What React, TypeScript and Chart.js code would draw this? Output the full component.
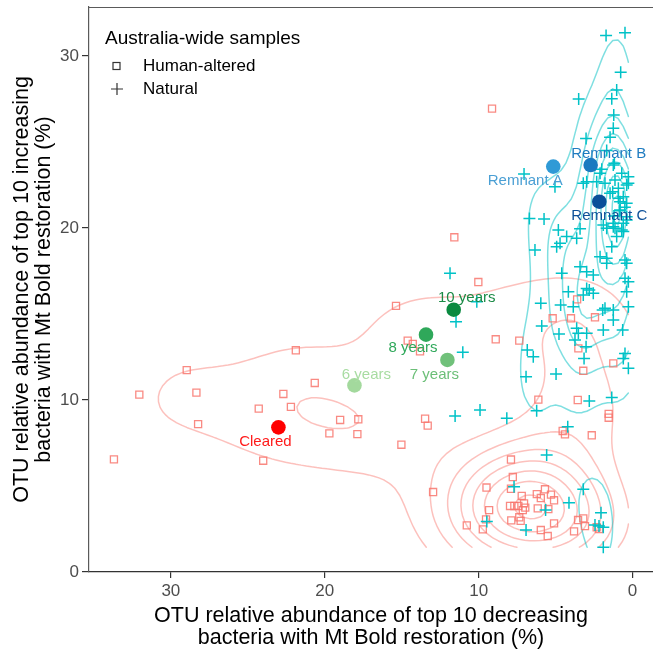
import React, { useEffect, useRef } from 'react';
import { Chart, registerables } from 'chart.js';

Chart.register(...registerables);

const FONT = '"Liberation Sans", Arial, Helvetica, sans-serif';

// ---- axes ----
const xTicks = [0, 10, 20, 30];
const yTicks = [0, 10, 20, 30];
const xLimits = [-1.33, 35.32];
const yLimits = [0, 32.85];

const xTitle = ['OTU relative abundance of top 10 decreasing', 'bacteria with Mt Bold restoration (%)'];
const yTitle = ['OTU relative abundance of top 10 increasing', 'bacteria with Mt Bold restoration (%)'];

const legendTitle = 'Australia-wide samples';
const groupNames = ['Human-altered', 'Natural'];

// ---- Human-altered samples (squares) ----
const humanX = [
  33.7, 28.97, 32.05, 28.34, 28.23, 24.29, 24.0, 22.69, 22.2, 21.88,
  20.65, 19.7, 19.0, 17.82, 17.88, 15.02, 15.37, 14.61, 14.28, 13.81,
  13.48, 13.31, 12.96, 11.58, 10.02, 9.13, 8.89, 7.36, 6.12, 3.56,
  1.55, 1.55, 4.54, 4.39, 2.65, 3.2, 1.25, 5.19, 4.0, 2.44,
  3.52, 3.6, 7.9, 7.78, 9.49, 7.9, 7.2, 6.22, 5.69, 5.96,
  5.3, 5.1, 7.96, 7.68, 7.42, 7.05, 6.97, 7.13, 6.16, 5.47,
  9.32, 9.52, 9.73, 10.77, 7.88, 7.36, 7.27, 5.96, 5.51, 5.1,
  3.8, 3.54, 3.2, 3.09, 2.33, 2.18,
];
const humanY = [
  6.55, 11.74, 10.31, 10.43, 8.6, 9.5, 6.47, 10.35, 9.6, 12.89,
  10.99, 8.06, 8.84, 8.88, 8.02, 7.4, 15.47, 13.45, 13.26, 12.83,
  8.91, 8.51, 4.65, 19.46, 16.86, 26.94, 13.53, 13.45, 10.02, 10.0,
  9.19, 8.97, 8.2, 8.0, 7.95, 11.7, 12.13, 14.75, 14.75, 14.81,
  13.0, 15.85, 6.54, 5.52, 4.91, 4.84, 4.42, 4.53, 4.81, 4.3,
  4.5, 4.17, 3.84, 3.84, 3.84, 3.99, 3.74, 3.6, 3.7, 3.66,
  3.6, 3.06, 2.48, 2.71, 3.0, 3.18, 2.97, 2.44, 2.09, 2.83,
  2.36, 3.02, 3.12, 2.67, 2.6, 2.5,
];

// ---- Natural samples (plus) ----
const naturalX = [
  1.72, 0.49, 0.77, 1.03, 3.5, 1.35, 1.22, 1.25, 1.46, 3.02,
  1.68, 1.18, 7.05, 5.04, 3.2, 2.0, 1.25, 0.7, 0.27, 0.27,
  2.98, 2.33, 1.79, 1.29, 0.92, 0.81, 2.11, 0.38, 1.46, 6.7,
  5.75, 4.82, 4.28, 3.63, 6.34, 4.93, 3.41, 1.35, 0.49, 2.11,
  1.68, 3.41, 0.27, 4.6, 4.17, 2.81, 5.96, 4.67, 3.85, 1.79,
  0.27, 11.86, 11.47, 10.12, 0.38, 0.7, 1.25, 1.9, 1.14, 0.6,
  4.71, 1.68, 0.38, 2.98, 2.55, 0.49, 2.98, 2.55, 3.2, 0.38,
  1.94, 1.25, 1.25, 1.9, 0.64, 5.9, 4.78, 3.63, 3.52, 2.98,
  3.74, 3.02, 3.15, 6.84, 6.45, 4.97, 6.92, 0.49, 0.6, 0.27,
  11.03, 2.81, 1.35, 6.23, 11.53, 9.91, 8.17, 4.21, 5.58, 7.7,
  3.2, 4.13, 2.05, 5.65, 9.47, 6.92, 2.44, 1.9, 1.9, 0.86,
  1.2, 0.5, 1.14, 0.92, 0.6, 0.38, 0.81, 0.38, 0.6, 1.25,
  1.68, 1.03, 2.18,
];
const naturalY = [
  31.2, 31.36, 29.05, 28.02, 27.5, 27.52, 26.57, 25.8, 25.27, 25.2,
  24.5, 23.76, 23.14, 22.4, 22.6, 23.41, 23.66, 23.18, 22.98, 22.6,
  22.69, 22.69, 22.6, 22.11, 21.73, 21.53, 23.18, 22.5, 22.02, 20.56,
  20.52, 19.88, 19.5, 19.4, 18.72, 18.91, 19.95, 18.91, 18.14, 18.33,
  18.24, 17.75, 16.88, 17.37, 16.3, 16.4, 15.62, 15.52, 15.42, 15.33,
  15.42, 17.37, 14.55, 15.72, 20.47, 19.88, 20.08, 20.17, 19.98, 19.79,
  19.11, 17.95, 17.95, 17.46, 17.27, 17.08, 16.49, 16.2, 16.1, 16.3,
  15.23, 15.23, 14.65, 14.07, 14.07, 14.3, 13.84, 14.17, 13.88, 13.88,
  13.49, 13.1, 12.42, 12.91, 12.52, 11.51, 11.35, 12.71, 12.42, 11.84,
  12.77, 9.94, 10.15, 9.38, 9.07, 9.42, 8.94, 8.45, 6.8, 4.96,
  4.81, 4.03, 3.45, 3.6, 2.93, 2.44, 2.73, 2.6, 1.44, 21.0,
  20.7, 21.2, 22.79, 22.31, 21.82, 21.44, 21.05, 20.66, 20.27, 20.27,
  19.98, 19.5, 2.67,
];

// ---- Mt Bold restoration sites ----
const siteNames = ['Cleared', '6 years', '7 years', '8 years', '10 years', 'Remnant A', 'Remnant B', 'Remnant C'];
const siteX = [23.01, 18.07, 12.03, 13.42, 11.62, 5.15, 2.72, 2.16];
const siteY = [8.41, 10.85, 12.33, 13.8, 15.25, 23.57, 23.66, 21.53];

// ---- styles ----
const siteColors = ['#ff0000', '#a3d99d', '#70c17a', '#2fa85a', '#0a8a40', '#2f9ad6', '#1b7ac0', '#0a4f9a'];
const siteLabelColors = ['#ff1a1a', '#a8dca2', '#6cbf78', '#2fa85a', '#1a8a45', '#4a9fd4', '#1f7cc0', '#0d4f98'];
const siteLabelOffsets = [[-13, 15], [12, -11], [-13, 15], [-13, 13], [13, -12], [-28, 14], [18, -11], [10, 14]];
const humanColor = 'rgba(248,118,109,0.85)';
const naturalColor = '#00c2c7';
const humanContourColor = 'rgba(248,118,109,0.45)';
const naturalContourColor = 'rgba(0,191,196,0.5)';

// ---- 2D density (like ggplot2 stat_density_2d / MASS::kde2d) ----
function quantile7(sorted: number[], p: number) {
  const h = (sorted.length - 1) * p;
  const lo = Math.floor(h);
  const hi = Math.ceil(h);
  return sorted[lo] + (h - lo) * (sorted[hi] - sorted[lo]);
}
function bandwidthNrd(v: number[]) {
  const n = v.length;
  const s = [...v].sort((a, b) => a - b);
  const iqr = quantile7(s, 0.75) - quantile7(s, 0.25);
  const mean = v.reduce((a, b) => a + b, 0) / n;
  const sd = Math.sqrt(v.reduce((a, b) => a + (b - mean) * (b - mean), 0) / (n - 1));
  return 4 * 1.06 * Math.min(sd, iqr / 1.34) * Math.pow(n, -0.2);
}
const GRID_N = 100;
function kde2d(xs: number[], ys: number[], lims: number[]) {
  const hx = bandwidthNrd(xs) / 4;
  const hy = bandwidthNrd(ys) / 4;
  const gx: number[] = [];
  const gy: number[] = [];
  for (let i = 0; i < GRID_N; i++) {
    gx.push(lims[0] + ((lims[1] - lims[0]) * i) / (GRID_N - 1));
    gy.push(lims[2] + ((lims[3] - lims[2]) * i) / (GRID_N - 1));
  }
  const phi = (t: number) => Math.exp(-0.5 * t * t) / Math.sqrt(2 * Math.PI);
  const ax: number[][] = gx.map((g) => xs.map((x) => phi((g - x) / hx)));
  const ay: number[][] = gy.map((g) => ys.map((y) => phi((g - y) / hy)));
  const z = new Float64Array(GRID_N * GRID_N);
  const norm = xs.length * hx * hy;
  for (let i = 0; i < GRID_N; i++) {
    for (let j = 0; j < GRID_N; j++) {
      let s = 0;
      const a = ax[i];
      const b = ay[j];
      for (let k = 0; k < xs.length; k++) s += a[k] * b[k];
      z[i + j * GRID_N] = s / norm;
    }
  }
  return { gx, gy, z };
}
function pretty(lo: number, hi: number, n: number) {
  const cell = (hi - lo) / n;
  const h = 1.5;
  const h5 = 0.5 + 1.5 * h;
  const base = Math.pow(10, Math.floor(Math.log10(cell)));
  let unit = base;
  if (2 * base - cell < h * (cell - unit)) {
    unit = 2 * base;
    if (5 * base - cell < h5 * (cell - unit)) {
      unit = 5 * base;
      if (10 * base - cell < h * (cell - unit)) unit = 10 * base;
    }
  }
  const ns = Math.floor(lo / unit + 1e-7);
  const nu = Math.ceil(hi / unit - 1e-7);
  const out: number[] = [];
  for (let k = ns; k <= nu; k++) out.push(k * unit);
  return out;
}
function isolines(d: { gx: number[]; gy: number[]; z: Float64Array }, level: number) {
  const { gx, gy, z } = d;
  const segs: number[][] = [];
  const V = (i: number, j: number) => z[i + j * GRID_N];
  for (let i = 0; i < GRID_N - 1; i++) {
    for (let j = 0; j < GRID_N - 1; j++) {
      const v0 = V(i, j), v1 = V(i + 1, j), v2 = V(i + 1, j + 1), v3 = V(i, j + 1);
      const idx = (v0 > level ? 1 : 0) | (v1 > level ? 2 : 0) | (v2 > level ? 4 : 0) | (v3 > level ? 8 : 0);
      if (idx === 0 || idx === 15) continue;
      const x0 = gx[i], x1 = gx[i + 1], y0 = gy[j], y1 = gy[j + 1];
      const lerp = (a: number, b: number) => (level - a) / (b - a);
      const edge = (e: number): number[] => {
        if (e === 0) return [x0 + (x1 - x0) * lerp(v0, v1), y0];
        if (e === 1) return [x1, y0 + (y1 - y0) * lerp(v1, v2)];
        if (e === 2) return [x0 + (x1 - x0) * lerp(v3, v2), y1];
        return [x0, y0 + (y1 - y0) * lerp(v0, v3)];
      };
      const center = (v0 + v1 + v2 + v3) / 4 > level;
      let pairs: number[][] = [];
      switch (idx) {
        case 1: case 14: pairs = [[3, 0]]; break;
        case 2: case 13: pairs = [[0, 1]]; break;
        case 3: case 12: pairs = [[3, 1]]; break;
        case 4: case 11: pairs = [[1, 2]]; break;
        case 6: case 9: pairs = [[0, 2]]; break;
        case 7: case 8: pairs = [[3, 2]]; break;
        case 5: pairs = center ? [[0, 1], [2, 3]] : [[3, 0], [1, 2]]; break;
        case 10: pairs = center ? [[3, 0], [1, 2]] : [[0, 1], [2, 3]]; break;
      }
      for (const p of pairs) {
        const a = edge(p[0]);
        const b = edge(p[1]);
        segs.push([a[0], a[1], b[0], b[1]]);
      }
    }
  }
  return segs;
}

function buildContours() {
  const allX = [...humanX, ...naturalX, ...siteX];
  const allY = [...humanY, ...naturalY, ...siteY];
  const lims = [Math.min(...allX), Math.max(...allX), Math.min(...allY), Math.max(...allY)];
  // breaks computed per group, as in ggplot2's per-group contouring
  const mk = (xs: number[], ys: number[]) => {
    const d = kde2d(xs, ys, lims);
    let lo = Infinity, hi = -Infinity;
    for (const v of d.z) { if (v < lo) lo = v; if (v > hi) hi = v; }
    return pretty(lo, hi, 10).flatMap((b) => isolines(d, b));
  };
  return [
    { color: humanContourColor, segments: mk(humanX, humanY) },
    { color: naturalContourColor, segments: mk(naturalX, naturalY) },
  ];
}

const densityPlugin = {
  id: 'density2d',
  beforeDatasetsDraw(chart: any) {
    const groups = chart.$contours;
    if (!groups) return;
    const { ctx, chartArea, scales } = chart;
    const sx = scales.x, sy = scales.y;
    ctx.save();
    ctx.beginPath();
    ctx.rect(chartArea.left, chartArea.top, chartArea.right - chartArea.left, chartArea.bottom - chartArea.top);
    ctx.clip();
    ctx.lineWidth = 1.5;
    ctx.lineCap = 'round';
    ctx.lineJoin = 'round';
    for (const g of groups) {
      ctx.strokeStyle = g.color;
      ctx.beginPath();
      for (const s of g.segments) {
        ctx.moveTo(sx.getPixelForValue(s[0]), sy.getPixelForValue(s[1]));
        ctx.lineTo(sx.getPixelForValue(s[2]), sy.getPixelForValue(s[3]));
      }
      ctx.stroke();
    }
    ctx.restore();
  },
};

const decorPlugin = {
  id: 'decor',
  afterDatasetsDraw(chart: any) {
    const { ctx } = chart;
    const meta = chart.getDatasetMeta(0);
    ctx.save();
    ctx.font = `15px ${FONT}`;
    ctx.textAlign = 'center';
    ctx.textBaseline = 'middle';
    meta.data.forEach((pt: any, i: number) => {
      const off = siteLabelOffsets[i];
      ctx.fillStyle = siteLabelColors[i];
      ctx.fillText(siteNames[i], pt.x + off[0], pt.y + off[1]);
    });
    ctx.restore();
  },
  afterDraw(chart: any) {
    const { ctx, chartArea } = chart;
    const l = chartArea.left;
    const t = chartArea.top;
    ctx.save();
    // panel top border
    ctx.strokeStyle = '#5a5a5a';
    ctx.lineWidth = 1.2;
    ctx.beginPath();
    ctx.moveTo(l, t + 0.5);
    ctx.lineTo(chartArea.right, t + 0.5);
    ctx.stroke();
    // legend
    ctx.fillStyle = '#000';
    ctx.textAlign = 'left';
    ctx.textBaseline = 'middle';
    ctx.font = `19px ${FONT}`;
    ctx.fillText(legendTitle, l + 16, t + 32);
    ctx.font = `17px ${FONT}`;
    ctx.fillText(groupNames[0], l + 54, t + 59);
    ctx.fillText(groupNames[1], l + 54, t + 82);
    ctx.strokeStyle = '#333';
    ctx.lineWidth = 1.2;
    ctx.strokeRect(l + 24, t + 55.5, 7, 7);
    ctx.beginPath();
    ctx.moveTo(l + 22, t + 82);
    ctx.lineTo(l + 34, t + 82);
    ctx.moveTo(l + 28, t + 76);
    ctx.lineTo(l + 28, t + 88);
    ctx.stroke();
    ctx.restore();
  },
};

export default function App() {
  const ref = useRef<HTMLCanvasElement | null>(null);
  useEffect(() => {
    if (!ref.current) return;
    const chart: any = new Chart(ref.current, {
      type: 'scatter',
      data: {
        datasets: [
          {
            label: 'Mt Bold',
            data: siteX.map((x, i) => ({ x, y: siteY[i] })),
            pointStyle: 'circle',
            pointRadius: 7.3,
            backgroundColor: siteColors,
            borderColor: siteColors,
            borderWidth: 0,
          },
          {
            label: groupNames[1],
            data: naturalX.map((x, i) => ({ x, y: naturalY[i] })),
            pointStyle: 'cross',
            pointRadius: 6,
            borderColor: naturalColor,
            backgroundColor: naturalColor,
            borderWidth: 1.5,
          },
          {
            label: groupNames[0],
            data: humanX.map((x, i) => ({ x, y: humanY[i] })),
            pointStyle: 'rect',
            pointRadius: 5,
            borderColor: humanColor,
            backgroundColor: 'rgba(0,0,0,0)',
            borderWidth: 1.3,
          },
        ],
      } as any,
      options: {
        animation: false,
        responsive: false,
        events: [],
        layout: { autoPadding: false, padding: { top: 7, left: 0, right: 0, bottom: 0 } },
        plugins: { legend: { display: false }, tooltip: { enabled: false } },
        scales: {
          x: {
            type: 'linear',
            reverse: true,
            min: xLimits[0],
            max: xLimits[1],
            afterBuildTicks: (s: any) => { s.ticks = xTicks.map((v) => ({ value: v })); },
            afterFit: (s: any) => { s.height = 79; s.paddingLeft = 0; s.paddingRight = 0; },
            ticks: { color: '#4d4d4d', font: { size: 17, family: FONT }, padding: 3, autoSkip: false, maxRotation: 0 },
            grid: { drawOnChartArea: false, drawTicks: true, tickLength: 6, color: '#333', lineWidth: 1.2 },
            border: { display: true, color: '#333', width: 1.2 },
            title: {
              display: true,
              text: xTitle,
              color: '#000',
              font: { size: 21.5, family: FONT, lineHeight: 1.03 },
              padding: { top: 0, bottom: 2 },
            },
          },
          y: {
            type: 'linear',
            min: yLimits[0],
            max: yLimits[1],
            afterBuildTicks: (s: any) => { s.ticks = yTicks.map((v) => ({ value: v })); },
            afterFit: (s: any) => { s.width = 89; s.paddingTop = 0; s.paddingBottom = 0; },
            ticks: { color: '#4d4d4d', font: { size: 17, family: FONT }, padding: 3, autoSkip: false },
            grid: { drawOnChartArea: false, drawTicks: true, tickLength: 7, color: '#333', lineWidth: 1.2 },
            border: { display: true, color: '#5a5a5a', width: 1.2 },
            title: {
              display: true,
              text: yTitle,
              color: '#000',
              font: { size: 21.5, family: FONT, lineHeight: 1.03 },
              padding: { top: 11, bottom: 0 },
            },
          },
        },
      } as any,
      plugins: [densityPlugin, decorPlugin],
    });
    chart.$contours = buildContours();
    chart.update();
    return () => chart.destroy();
  }, []);
  return (
    <div style={{ position: 'fixed', left: 0, top: 0, width: 653, height: 651, background: '#fff' }}>
      <canvas ref={ref} width={653} height={651} style={{ display: 'block', width: 653, height: 651 }} />
    </div>
  );
}
